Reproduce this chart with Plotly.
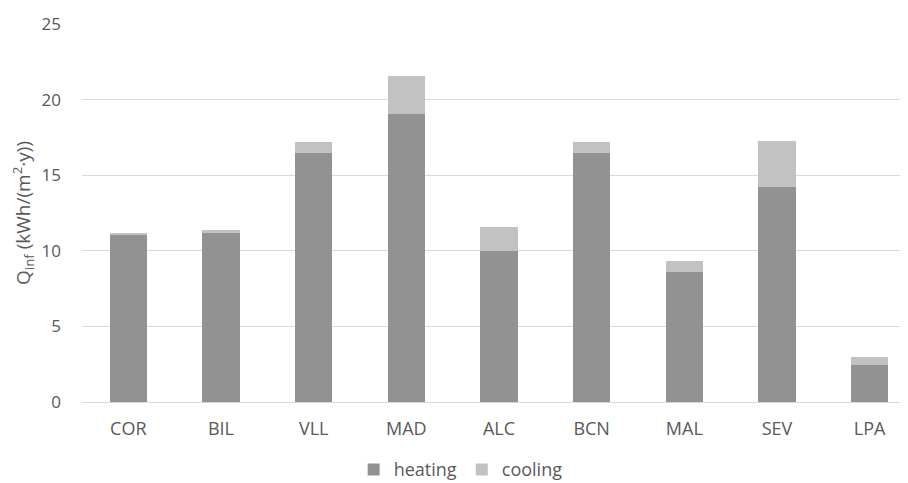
import plotly.graph_objects as go

cities = ["COR", "BIL", "VLL", "MAD", "ALC", "BCN", "MAL", "SEV", "LPA"]
heating = [11.1, 11.15, 16.45, 19.05, 10.0, 16.45, 8.6, 14.2, 2.45]
cooling = [0.05, 0.25, 0.75, 2.5, 1.6, 0.75, 0.75, 3.05, 0.55]
y_ticks = [0, 5, 10, 15, 20, 25]

font_family = "Open Sans, Liberation Sans, sans-serif"
text_color = "#595959"

fig = go.Figure()
fig.add_trace(go.Bar(x=cities, y=heating, name="heating",
                     marker=dict(color="#929292", line=dict(width=0))))
fig.add_trace(go.Bar(x=cities, y=cooling, name="cooling",
                     marker=dict(color="#c2c2c2", line=dict(width=0))))

fig.update_layout(
    barmode="stack",
    bargap=0.6,
    width=908, height=483,
    margin=dict(l=74, r=0, t=16, b=89),
    plot_bgcolor="white", paper_bgcolor="white",
    font=dict(family=font_family, size=17, color=text_color),
    showlegend=True,
    legend=dict(orientation="h", x=0.454, xanchor="center", y=-0.228, yanchor="bottom",
                font=dict(size=18, color=text_color), traceorder="normal",
                itemwidth=30, tracegroupgap=0),
    xaxis=dict(range=[-0.5, 8.5], showgrid=False, showline=True, linecolor="#d9d9d9",
               linewidth=1, ticks="", ticklabelstandoff=10, automargin=False,
               tickfont=dict(size=18, color=text_color)),
    yaxis=dict(range=[0, 25], tickvals=y_ticks, showgrid=True, gridcolor="#d9d9d9",
               gridwidth=1, zeroline=False, showline=False, ticks="",
               ticklabelstandoff=20, automargin=False,
               tickfont=dict(size=17, color=text_color),
               title=dict(text="Q<sub>inf</sub> (kWh/(m<sup>2</sup>·y))", standoff=5,
                          font=dict(size=19, color=text_color))),
)

fig.write_html("out.html")
